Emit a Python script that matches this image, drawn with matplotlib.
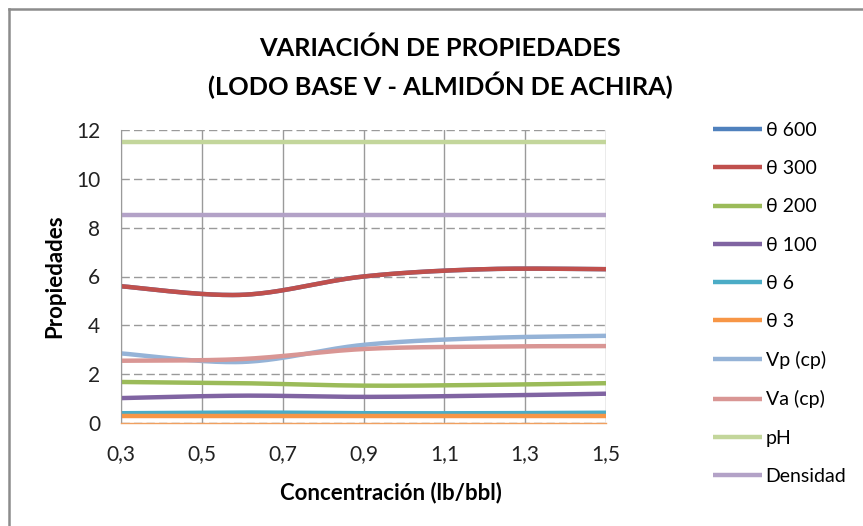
import matplotlib

matplotlib.use("Agg")
import matplotlib.pyplot as plt
from matplotlib.lines import Line2D
from matplotlib.ticker import FuncFormatter
import numpy as np

plt.rcParams["font.family"] = ["Lato", "DejaVu Sans"]

# concentración (lb/bbl)
conc = [0.3, 0.6, 0.9, 1.2, 1.5]

theta600 = [5.6, 5.25, 6.0, 6.3, 6.3]
theta300 = [5.6, 5.25, 6.0, 6.3, 6.3]
theta200 = [1.68, 1.63, 1.53, 1.56, 1.63]
theta100 = [1.02, 1.12, 1.07, 1.12, 1.2]
theta6 = [0.4, 0.43, 0.4, 0.4, 0.42]
theta3 = [0.3, 0.3, 0.3, 0.3, 0.3]
vp = [2.85, 2.5, 3.2, 3.48, 3.57]
va = [2.55, 2.62, 3.03, 3.13, 3.15]
ph = [11.5, 11.5, 11.5, 11.5, 11.5]
densidad = [8.5, 8.5, 8.5, 8.5, 8.5]

labels = ["θ 600", "θ 300", "θ 200", "θ 100", "θ 6", "θ 3",
          "Vp (cp)", "Va (cp)", "pH", "Densidad"]
series = [theta600, theta300, theta200, theta100, theta6, theta3,
          vp, va, ph, densidad]
colors = ["#4f81bd", "#c0504d", "#9bbb59", "#8064a2", "#4bacc6", "#f79646",
          "#95b3d7", "#d99694", "#c3d69b", "#b3a2c7"]

x_ticks = [0.3, 0.5, 0.7, 0.9, 1.1, 1.3, 1.5]


def smooth(xs, ys, n=40):
    # Excel-style smoothed line (Catmull-Rom through the points)
    xs = np.asarray(xs, float)
    ys = np.asarray(ys, float)
    px = np.concatenate([[xs[0]], xs, [xs[-1]]])
    py = np.concatenate([[ys[0]], ys, [ys[-1]]])
    outx, outy = [], []
    t = np.linspace(0, 1, n)
    for i in range(1, len(px) - 2):
        p0, p1, p2, p3 = (np.array([px[j], py[j]]) for j in range(i - 1, i + 3))
        c1 = p1 + (p2 - p0) / 6
        c2 = p2 - (p3 - p1) / 6
        b = ((1 - t) ** 3)[:, None] * p1 + (3 * (1 - t) ** 2 * t)[:, None] * c1 \
            + (3 * (1 - t) * t ** 2)[:, None] * c2 + (t ** 3)[:, None] * p2
        outx.extend(b[:, 0])
        outy.extend(b[:, 1])
    return outx, outy


fig = plt.figure(figsize=(8.63, 5.26), dpi=100)
ax = fig.add_axes([121 / 863, 1 - 423 / 526, 485 / 863, 293 / 526])

for ys, lab, col in zip(series, labels, colors):
    sx, sy = smooth(conc, ys)
    ax.plot(sx, sy, color=col, lw=3.2, label=lab, solid_capstyle="butt")

ax.set_xlim(0.3, 1.5)
ax.set_ylim(0, 12)
ax.set_xticks(x_ticks)
ax.set_yticks(range(0, 13, 2))
ax.xaxis.set_major_formatter(FuncFormatter(lambda v, p: f"{v:.1f}".replace(".", ",")))
ax.tick_params(axis="both", length=0, labelsize=15, colors="#222222")
ax.tick_params(axis="y", pad=15)
ax.tick_params(axis="x", pad=15)

ax.xaxis.grid(True, color="#9a9a9a", lw=1, ls="-")
ax.yaxis.grid(True, color="#9a9a9a", lw=1, ls=(0, (6, 3)))
ax.set_axisbelow(True)
for side in ("top", "right"):
    ax.spines[side].set_visible(False)
ax.spines["left"].set_color("#9a9a9a")
ax.spines["bottom"].set_color("#f0a060")
ax.spines["bottom"].set_linewidth(1)

fig.text(55 / 863, 1 - 276 / 526, "Propiedades", rotation=90, ha="center",
         va="center", fontsize=16, fontweight="bold")
fig.text(391 / 863, 1 - 493 / 526, "Concentración (lb/bbl)", ha="center",
         va="center", fontsize=16, fontweight="bold")

fig.text(440 / 863, 1 - 48 / 526, "VARIACIÓN DE PROPIEDADES", ha="center",
         va="center", fontsize=18.3, fontweight="bold")
fig.text(440 / 863, 1 - 85 / 526, "(LODO BASE V - ALMIDÓN DE ACHIRA)",
         ha="center", va="center", fontsize=18.3, fontweight="bold")

fig.legend(loc="upper left", bbox_to_anchor=(713 / 863, 1 - 122 / 526),
           frameon=False, fontsize=14, handlelength=2.5, handletextpad=0.2,
           labelspacing=1.09, borderpad=0, borderaxespad=0)

# outer chart border (left and top edges visible)
fig.add_artist(Line2D([9 / 863, 9 / 863], [0, 1 - 9 / 526],
                      transform=fig.transFigure, color="#8c8c8c", lw=1.8))
fig.add_artist(Line2D([9 / 863, 1], [1 - 9 / 526, 1 - 9 / 526],
                      transform=fig.transFigure, color="#8c8c8c", lw=1.8))

fig.savefig("out.png", dpi=100)
